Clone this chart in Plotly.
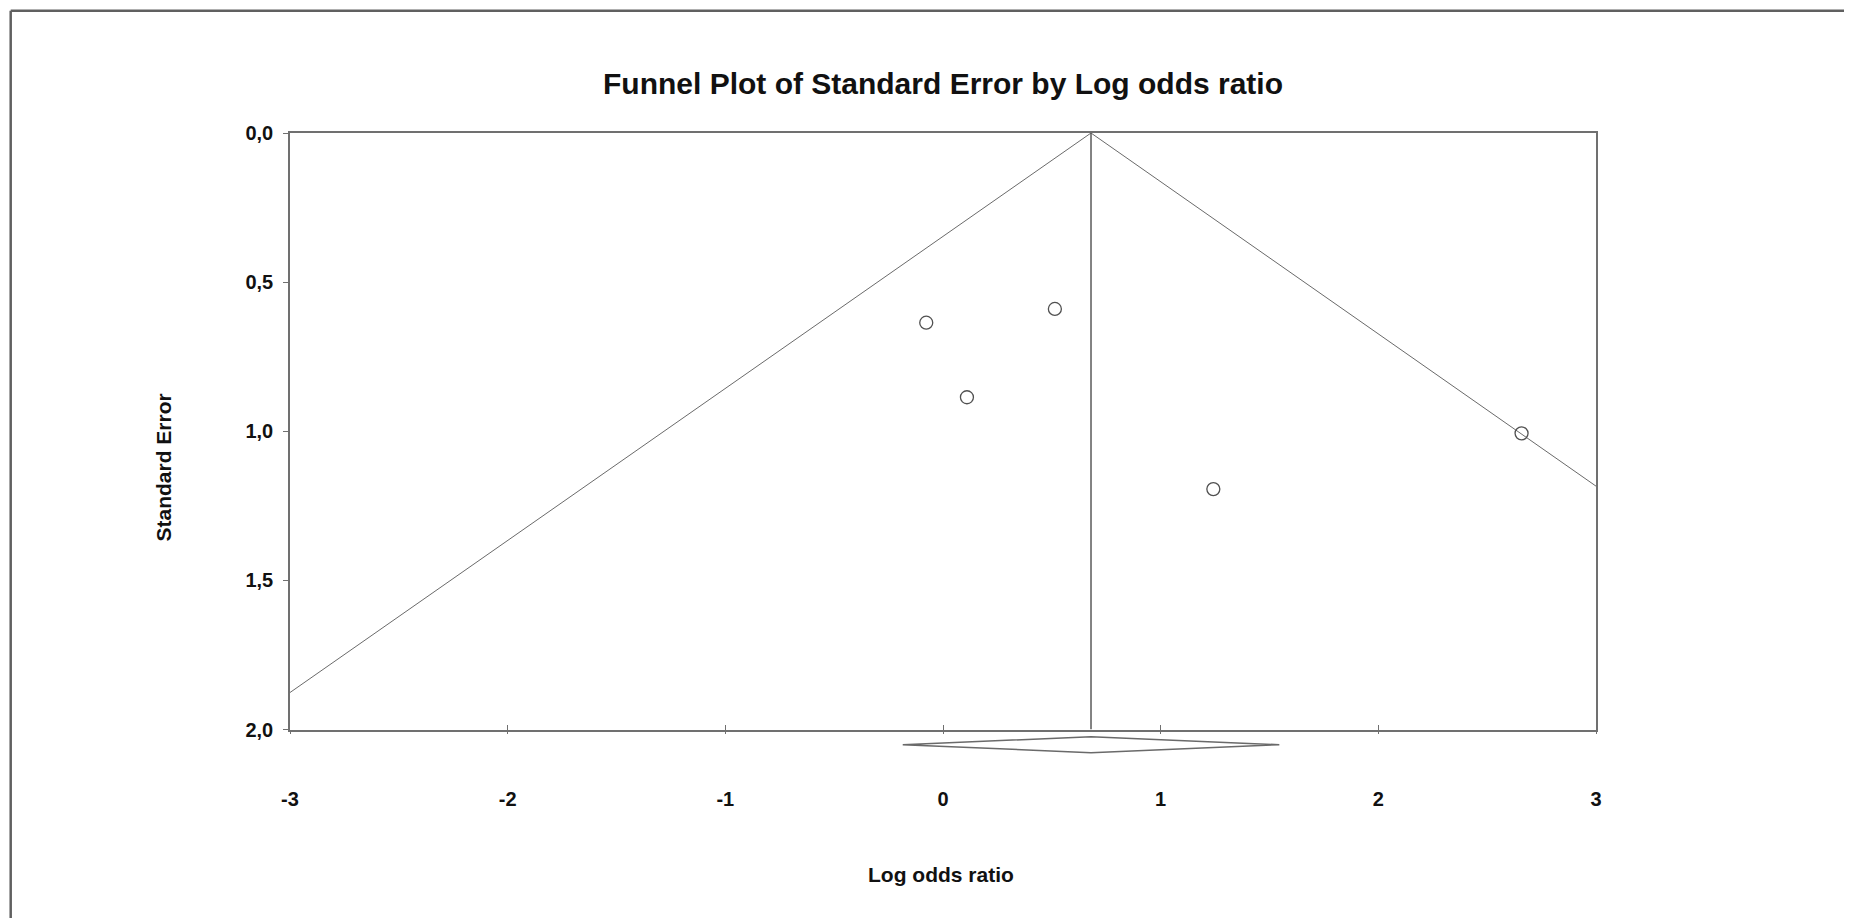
import plotly.graph_objects as go

# ---- data ----
study_log_or = [-0.077, 0.514, 0.110, 1.242, 2.658]
study_se = [0.636, 0.590, 0.886, 1.194, 1.007]

pooled_log_or = 0.680
pooled_ci = [-0.185, 1.545]

funnel_left_x = [-3.0, 0.680]
funnel_left_se = [1.876, 0.0]
funnel_right_x = [0.680, 3.0]
funnel_right_se = [0.0, 1.184]

x_tickvals = [-3, -2, -1, 0, 1, 2, 3]
x_ticktext = ["-3", "-2", "-1", "0", "1", "2", "3"]
y_tickvals = [0.0, 0.5, 1.0, 1.5, 2.0]
y_ticktext = ["0,0", "0,5", "1,0", "1,5", "2,0"]

# ---- layout geometry (pixels of the browser window) ----
OFF = 8  # default body margin of the page
WIN_W, WIN_H = 1852, 918
W, H = WIN_W - OFF, WIN_H - OFF
ML, MR, MT, MB = 290 - OFF, WIN_W - 1596, 133 - OFF, 100
PW = W - ML - MR
PH = H - MT - MB


def px(xp):
    return (xp - OFF - ML) / PW


def py(yp):
    return (H - MB - (yp - OFF)) / PH


FONT = "Liberation Sans, Arial, sans-serif"
LINE = "#6a6a6a"
FRAME = "#707070"

fig = go.Figure()

# funnel lines
fig.add_trace(go.Scatter(x=funnel_left_x, y=funnel_left_se, mode="lines",
                         line=dict(color=LINE, width=1), hoverinfo="skip", showlegend=False))
fig.add_trace(go.Scatter(x=funnel_right_x, y=funnel_right_se, mode="lines",
                         line=dict(color=LINE, width=1), hoverinfo="skip", showlegend=False))
# vertical pooled line
fig.add_trace(go.Scatter(x=[pooled_log_or, pooled_log_or], y=[y_tickvals[0], y_tickvals[-1]],
                         mode="lines", line=dict(color="#5a5a5a", width=1.5),
                         hoverinfo="skip", showlegend=False))
# studies
fig.add_trace(go.Scatter(x=study_log_or, y=study_se, mode="markers",
                         marker=dict(symbol="circle-open", size=13,
                                     line=dict(color="#505050", width=1.3), color="#505050"),
                         showlegend=False, cliponaxis=False))

# diamond (pooled estimate and CI) in a thin subplot below
fig.add_trace(go.Scatter(
    x=[pooled_ci[0], pooled_log_or, pooled_ci[1], pooled_log_or, pooled_ci[0]],
    y=[0, 1, 0, -1, 0],
    mode="lines", line=dict(color="#6a6a6a", width=1.5),
    xaxis="x2", yaxis="y2", hoverinfo="skip", showlegend=False))

# invisible helper trace so the outward tick overlay axis is drawn
fig.add_trace(go.Scatter(x=[pooled_log_or], y=[y_tickvals[0]], mode="markers",
                         marker=dict(opacity=0), xaxis="x3", yaxis="y",
                         hoverinfo="skip", showlegend=False))

main_bottom = py(729.5)

fig.update_layout(
    width=W, height=H,
    margin=dict(l=ML, r=MR, t=MT, b=MB, pad=0),
    paper_bgcolor="white", plot_bgcolor="white",
    font=dict(family=FONT, size=20, color="#111111"),
    title=dict(text="<b>Funnel Plot of Standard Error by Log odds ratio</b>",
               x=px(943), xref="paper", xanchor="center",
               y=1 - (83 - OFF) / H, yref="container", yanchor="middle",
               font=dict(family=FONT, size=30, color="#111111")),
    xaxis=dict(range=[x_tickvals[0], x_tickvals[-1]], domain=[0, 1], anchor="y",
               tickvals=x_tickvals, ticktext=["<b>%s</b>" % t for t in x_ticktext],
               ticks="inside", ticklen=5, tickwidth=1, tickcolor=FRAME,
               showgrid=False, zeroline=False,
               showline=True, linecolor=FRAME, linewidth=1.5, mirror=True,
               ticklabelstandoff=51, tickfont=dict(size=20)),
    xaxis3=dict(range=[x_tickvals[0], x_tickvals[-1]], overlaying="x", anchor="y",
                side="bottom", tickvals=x_tickvals, ticks="outside", ticklen=3,
                tickwidth=1, tickcolor=FRAME, showticklabels=False,
                showgrid=False, zeroline=False, showline=False),
    yaxis=dict(range=[y_tickvals[-1], y_tickvals[0]], domain=[main_bottom, 1], anchor="x",
               tickvals=y_tickvals, ticktext=["<b>%s</b>" % t for t in y_ticktext],
               ticks="outside", ticklen=5, tickwidth=1, tickcolor=FRAME,
               showgrid=False, zeroline=False,
               showline=True, linecolor=FRAME, linewidth=1.5, mirror=True,
               ticklabelstandoff=6, tickfont=dict(size=20)),
    xaxis2=dict(range=[x_tickvals[0], x_tickvals[-1]], domain=[0, 1], anchor="y2",
                visible=False, matches="x"),
    yaxis2=dict(range=[-1.5, 1.5], domain=[py(756.7), py(732.7)], anchor="x2",
                visible=False),
    annotations=[
        dict(text="<b>Standard Error</b>", x=px(163), y=py(467.5), xref="paper", yref="paper",
             textangle=-90, showarrow=False, xanchor="center", yanchor="middle",
             font=dict(size=21)),
        dict(text="<b>Log odds ratio</b>", x=px(941), y=py(874), xref="paper", yref="paper",
             showarrow=False, xanchor="center", yanchor="middle", font=dict(size=21)),
    ],
    shapes=[
        dict(type="line", xref="paper", yref="paper", x0=px(10.7), x1=px(WIN_W + 5),
             y0=py(10.7), y1=py(10.7), line=dict(color="#606060", width=2.5)),
        dict(type="line", xref="paper", yref="paper", x0=px(10.7), x1=px(10.7),
             y0=py(10.7), y1=py(WIN_H + 5), line=dict(color="#606060", width=2.5)),
    ],
)

fig.write_html("out.html")
